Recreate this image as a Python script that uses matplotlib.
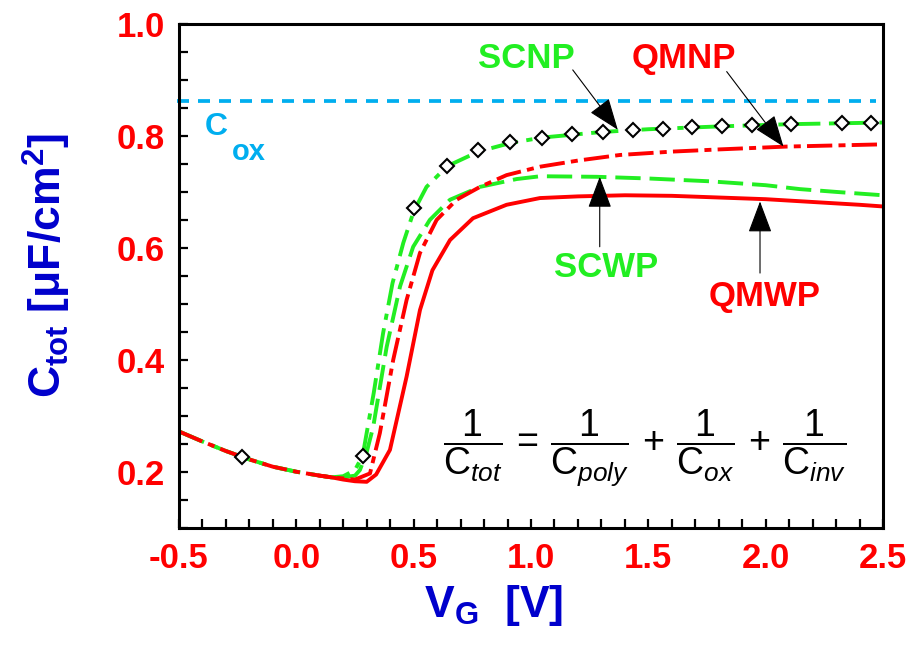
import numpy as np
import matplotlib
matplotlib.use('Agg')
import matplotlib.pyplot as plt
from matplotlib.ticker import MultipleLocator

plt.rcParams['font.family'] = ['Liberation Sans', 'DejaVu Sans']
plt.rcParams['mathtext.fontset'] = 'custom'
plt.rcParams['mathtext.rm'] = 'Liberation Sans'
plt.rcParams['mathtext.it'] = 'Liberation Sans:italic'
plt.rcParams['mathtext.bf'] = 'Liberation Sans:bold'

# ─── Data ─────────────────────────────────────────────────────────────────────
# accumulation branch, common to all curves
v_acc = [-0.5, -0.4, -0.3, -0.2, -0.1, 0.0, 0.1, 0.15]
c_acc = [0.272, 0.254, 0.237, 0.222, 0.209, 0.200, 0.193, 0.190]

v_scnp = [0.2, 0.25, 0.283, 0.33, 0.37, 0.41, 0.456, 0.50, 0.555, 0.643, 0.776,
          0.909, 1.045, 1.3, 1.5, 1.8, 2.1, 2.5]
c_scnp = [0.192, 0.203, 0.229, 0.341, 0.448, 0.537, 0.609, 0.665, 0.709, 0.746, 0.772,
          0.787, 0.797, 0.807, 0.812, 0.817, 0.821, 0.824]

v_scwp = [0.2, 0.25, 0.271, 0.30, 0.328, 0.385, 0.442, 0.498, 0.569, 0.655, 0.783,
          0.939, 1.04, 1.28, 1.5, 1.76, 2.0, 2.146, 2.3, 2.5]
c_scwp = [0.190, 0.193, 0.203, 0.235, 0.281, 0.423, 0.531, 0.602, 0.650, 0.686, 0.709,
          0.723, 0.728, 0.727, 0.724, 0.719, 0.712, 0.705, 0.700, 0.694]

v_qmnp = [0.2, 0.25, 0.314, 0.356, 0.413, 0.47, 0.527, 0.598, 0.683, 0.783, 0.896,
          1.038, 1.2, 1.379, 1.6, 1.805, 2.089, 2.5]
c_qmnp = [0.188, 0.186, 0.197, 0.269, 0.40, 0.507, 0.591, 0.650, 0.686, 0.709, 0.730,
          0.745, 0.756, 0.766, 0.772, 0.776, 0.781, 0.785]

v_qmwp = [0.2, 0.25, 0.30, 0.34, 0.399, 0.47, 0.527, 0.58, 0.655, 0.753, 0.896,
          1.038, 1.2, 1.4, 1.6, 1.8, 2.0, 2.2, 2.4, 2.5]
c_qmwp = [0.186, 0.183, 0.182, 0.195, 0.239, 0.370, 0.489, 0.560, 0.614, 0.653, 0.677,
          0.689, 0.692, 0.694, 0.693, 0.690, 0.687, 0.682, 0.677, 0.674]

v_diam = [-0.233, 0.283, 0.501, 0.643, 0.776, 0.909, 1.045, 1.176, 1.305, 1.433,
          1.561, 1.687, 1.815, 1.943, 2.11, 2.324, 2.447]
c_diam = [0.226, 0.229, 0.671, 0.746, 0.774, 0.789, 0.797, 0.804, 0.807, 0.811,
          0.813, 0.816, 0.817, 0.820, 0.821, 0.823, 0.823]

c_ox = 0.862

GREEN = '#22EE22'
RED   = '#FF0000'
CYAN  = '#00AEEF'
BLUE  = '#0000CC'

# ─── Figure ───────────────────────────────────────────────────────────────────
fig = plt.figure(figsize=(9.15, 6.49), dpi=100)
ax = fig.add_axes([0.1956, 0.1869, 0.7694, 0.7761])

lw = 2.8
ax.plot([-0.51, 2.47], [c_ox, c_ox], color=CYAN, lw=2.7, dashes=(3.2, 2.4), clip_on=False)
ax.plot(v_acc + v_scnp, c_acc + c_scnp, color=GREEN, lw=lw, dashes=(7, 2.2, 1.6, 2.2))
ax.plot(v_acc + v_scwp, c_acc + c_scwp, color=GREEN, lw=lw, dashes=(6.5, 2.3))
ax.plot(v_acc + v_qmnp, c_acc + c_qmnp, color=RED, lw=lw, dashes=(6.5, 1.6, 1.8, 1.6))
ax.plot(v_acc[-2:] + v_qmwp, c_acc[-2:] + c_qmwp, color=RED, lw=lw)
ax.plot(v_diam, c_diam, linestyle='none', marker='D', ms=7, mfc='white',
        mec='black', mew=1.5, zorder=5)

ax.set_xlim(-0.5, 2.5)
ax.set_ylim(0.1, 1.0)
ax.xaxis.set_major_locator(MultipleLocator(0.5))
ax.xaxis.set_minor_locator(MultipleLocator(0.1))
ax.yaxis.set_major_locator(MultipleLocator(0.2))
ax.yaxis.set_minor_locator(MultipleLocator(0.05))
ax.set_yticks([0.2, 0.4, 0.6, 0.8, 1.0])
ax.tick_params(which='both', direction='in', length=6.5, width=1.6,
               top=False, right=False)
ax.tick_params(which='major', labelsize=25, labelcolor=RED, pad=10)
for lab in ax.get_xticklabels() + ax.get_yticklabels():
    lab.set_fontweight('bold')
ax.xaxis.set_major_formatter(matplotlib.ticker.FormatStrFormatter('%.1f'))
ax.yaxis.set_major_formatter(matplotlib.ticker.FormatStrFormatter('%.1f'))
for s in ax.spines.values():
    s.set_linewidth(2.2)

ax.set_xlabel(r'$\mathbf{V_G\ \ [V]}$', fontsize=32, color=BLUE)
ax.xaxis.set_label_coords(0.447, -0.11)
ax.set_ylabel(r'$\mathbf{C_{tot}\ [μF/cm^2]}$', fontsize=32, color=BLUE)
ax.yaxis.set_label_coords(-0.15, 0.52)

# C_ox label
ax.text(-0.389, 0.802, 'C', color=CYAN, fontsize=23, fontweight='bold', va='baseline')
ax.text(-0.274, 0.757, 'ox', color=CYAN, fontsize=21, fontweight='bold', va='baseline')

# curve labels and arrows
ax.text(0.982, 0.9375, 'SCNP', color=GREEN, fontsize=25, fontweight='bold',
        ha='center', va='center')
ax.text(1.652, 0.9375, 'QMNP', color=RED, fontsize=25, fontweight='bold',
        ha='center', va='center')
ax.text(1.319, 0.565, 'SCWP', color=GREEN, fontsize=25, fontweight='bold',
        ha='center', va='center')
ax.text(1.997, 0.514, 'QMWP', color=RED, fontsize=25, fontweight='bold',
        ha='center', va='center')

arrow = dict(arrowstyle='-|>,head_length=0.8,head_width=0.3', mutation_scale=25,
             lw=0.8, color='black', shrinkA=0, shrinkB=0)
ax.annotate('', xy=(1.370, 0.811), xytext=(1.178, 0.918), arrowprops=arrow, zorder=6)
ax.annotate('', xy=(2.076, 0.781), xytext=(1.834, 0.915), arrowprops=arrow, zorder=6)
ax.annotate('', xy=(1.293, 0.727), xytext=(1.293, 0.602), arrowprops=arrow, zorder=6)
ax.annotate('', xy=(1.976, 0.683), xytext=(1.976, 0.555), arrowprops=arrow, zorder=6)

# formula
ax.text(1.486, 0.243,
        r'$\dfrac{1}{\mathrm{C}_{tot}}\,=\,\dfrac{1}{\mathrm{C}_{poly}}\,+\,\dfrac{1}{\mathrm{C}_{ox}}\,+\,\dfrac{1}{\mathrm{C}_{inv}}$',
        fontsize=27, ha='center', va='center', color='black')

fig.savefig('out.png', dpi=100)
